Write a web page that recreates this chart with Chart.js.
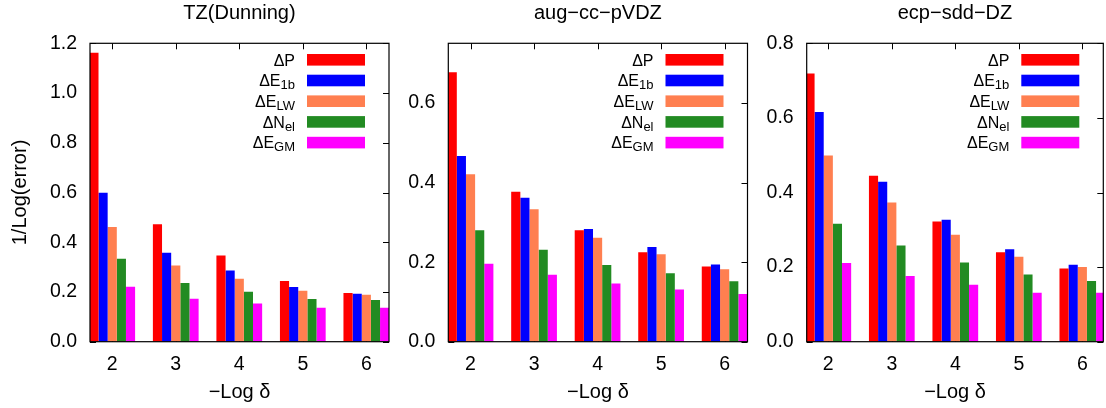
<!DOCTYPE html>
<html>
<head>
<meta charset="utf-8">
<script src="https://cdn.jsdelivr.net/npm/chart.js@4.4.1/dist/chart.umd.min.js"></script>
<style>
  html, body { margin: 0; padding: 0; background: #fff; }
  #wrap { position: relative; width: 1106px; height: 408px; overflow: hidden; }
  canvas { position: absolute; top: 0; }
</style>
</head>
<body>
<div id="wrap">
  <canvas id="c1" width="395" height="408" style="left:0px"></canvas>
  <canvas id="c2" width="360" height="408" style="left:395px"></canvas>
  <canvas id="c3" width="351" height="408" style="left:755px"></canvas>
</div>
<script>
const FONT = '"Liberation Sans", Arial, Helvetica, sans-serif';

// x categories (-Log delta) and legend entries
const categories = [2, 3, 4, 5, 6];
const seriesMain = ["ΔP", "ΔE", "ΔE", "ΔN", "ΔE"];
const seriesSub = ["", "1b", "LW", "el", "GM"];
const seriesColors = ["#ff0000", "#0000ff", "#ff7f50", "#228b22", "#ff00ff"];

// TZ(Dunning)
const tzP = [1.162, 0.472, 0.347, 0.244, 0.196];
const tzE1b = [0.599, 0.358, 0.286, 0.220, 0.193];
const tzELW = [0.461, 0.306, 0.253, 0.205, 0.189];
const tzNel = [0.334, 0.236, 0.201, 0.172, 0.168];
const tzEGM = [0.221, 0.173, 0.154, 0.137, 0.137];
const tzTicks = [0, 0.2, 0.4, 0.6, 0.8, 1.0, 1.2];

// aug-cc-pVDZ
const augP = [0.677, 0.377, 0.280, 0.225, 0.189];
const augE1b = [0.467, 0.362, 0.283, 0.238, 0.194];
const augELW = [0.421, 0.333, 0.261, 0.220, 0.182];
const augNel = [0.280, 0.231, 0.193, 0.172, 0.152];
const augEGM = [0.196, 0.168, 0.146, 0.131, 0.120];
const augTicks = [0, 0.2, 0.4, 0.6];

// ecp-sdd-DZ
const ecpP = [0.719, 0.445, 0.322, 0.240, 0.196];
const ecpE1b = [0.616, 0.429, 0.327, 0.248, 0.206];
const ecpELW = [0.499, 0.373, 0.287, 0.228, 0.200];
const ecpNel = [0.316, 0.258, 0.212, 0.180, 0.163];
const ecpEGM = [0.211, 0.176, 0.153, 0.131, 0.131];
const ecpTicks = [0, 0.2, 0.4, 0.6, 0.8];

// frame, inward tick marks, title and subscripted legend (gnuplot look)
const gnuFrame = {
  id: "gnuFrame",
  beforeDatasetsDraw(chart) {
    const { ctx, chartArea: a, scales: { x, y } } = chart;
    ctx.save();
    ctx.strokeStyle = "#000";
    ctx.lineWidth = 1;
    ctx.beginPath();
    for (const v of categories) {
      const px = Math.round(x.getPixelForValue(v)) + 0.5;
      ctx.moveTo(px, a.top); ctx.lineTo(px, a.top + 6);
      ctx.moveTo(px, a.bottom); ctx.lineTo(px, a.bottom - 6);
    }
    for (const t of y.ticks) {
      const py = Math.round(y.getPixelForValue(t.value)) + 0.5;
      ctx.moveTo(a.left, py); ctx.lineTo(a.left + 6, py);
      ctx.moveTo(a.right, py); ctx.lineTo(a.right - 6, py);
    }
    ctx.stroke();
    ctx.restore();
  },
  afterDatasetsDraw(chart, args, opts) {
    const { ctx, chartArea: a } = chart;
    ctx.save();
    ctx.strokeStyle = "#000";
    ctx.lineWidth = 1.2;
    ctx.strokeRect(a.left, a.top, a.right - a.left, a.bottom - a.top);

    // title
    ctx.fillStyle = "#000";
    ctx.font = `20px ${FONT}`;
    ctx.textAlign = "center";
    ctx.textBaseline = "middle";
    ctx.fillText(opts.title, (a.left + a.right) / 2, 13);

    // legend
    ctx.textAlign = "left";
    ctx.textBaseline = "alphabetic";
    seriesMain.forEach((m, i) => {
      const cy = a.top + 16.5 + i * 20.7;
      ctx.fillStyle = seriesColors[i];
      ctx.fillRect(a.right - 82, cy - 5.8, 58, 11.6);
      ctx.fillStyle = "#000";
      ctx.font = `16px ${FONT}`;
      const wm = ctx.measureText(m).width;
      ctx.font = `13px ${FONT}`;
      const ws = ctx.measureText(seriesSub[i]).width;
      const x0 = a.right - 94 - wm - ws;
      ctx.font = `16px ${FONT}`;
      ctx.fillText(m, x0, cy + 5.8);
      ctx.font = `13px ${FONT}`;
      ctx.fillText(seriesSub[i], x0 + wm, cy + 8.8);
    });
    ctx.restore();
  }
};

function makeChart(id, title, series, yTicks, yMax, yWidth, padRight, xMin, xMax, yTitle) {
  const datasets = series.map((vals, i) => ({
    label: seriesMain[i] + seriesSub[i],
    data: categories.map((c, j) => ({ x: c, y: vals[j] })),
    backgroundColor: seriesColors[i],
    borderWidth: 0,
    categoryPercentage: 0.72,
    barPercentage: 1.0
  }));

  return new Chart(document.getElementById(id), {
    type: "bar",
    data: { datasets },
    plugins: [gnuFrame],
    options: {
      responsive: false,
      animation: false,
      events: [],
      layout: { padding: { top: 43.3, right: padRight, left: 0, bottom: 0 } },
      plugins: {
        legend: { display: false },
        tooltip: { enabled: false },
        gnuFrame: { title }
      },
      scales: {
        x: {
          type: "linear",
          min: xMin,
          max: xMax,
          offset: false,
          grid: { display: false, drawTicks: false },
          border: { display: false },
          afterBuildTicks: (s) => { s.ticks = categories.map((v) => ({ value: v })); },
          afterFit: (s) => { s.height = 66.3; },
          ticks: {
            color: "#000",
            padding: 11,
            font: { family: FONT, size: 19.5 },
            callback: (v) => String(v)
          },
          title: {
            display: true,
            text: "−Log δ",
            color: "#000",
            font: { family: FONT, size: 20 },
            padding: { top: 0, bottom: 4 }
          }
        },
        y: {
          min: 0,
          max: yMax,
          grid: { display: false, drawTicks: false },
          border: { display: false },
          afterBuildTicks: (s) => { s.ticks = yTicks.map((v) => ({ value: v })); },
          afterFit: (s) => { s.width = yWidth; },
          ticks: {
            color: "#000",
            padding: 13,
            font: { family: FONT, size: 19.5 },
            callback: (v) => Number(v).toFixed(1)
          },
          title: {
            display: !!yTitle,
            text: yTitle || "",
            color: "#000",
            font: { family: FONT, size: 20 },
            padding: { top: 8, bottom: 0 }
          }
        }
      }
    }
  });
}

makeChart("c1", "TZ(Dunning)", [tzP, tzE1b, tzELW, tzNel, tzEGM],
  tzTicks, 1.2, 90, 6, 1.65, 6.357, "1/Log(error)");
makeChart("c2", "aug−cc−pVDZ", [augP, augE1b, augELW, augNel, augEGM],
  augTicks, 0.75, 53.3, 7.5, 1.65, 6.36, null);
makeChart("c3", "ecp−sdd−DZ", [ecpP, ecpE1b, ecpELW, ecpNel, ecpEGM],
  ecpTicks, 0.8, 51.7, 2.7, 1.66, 6.33, null);
</script>
</body>
</html>
